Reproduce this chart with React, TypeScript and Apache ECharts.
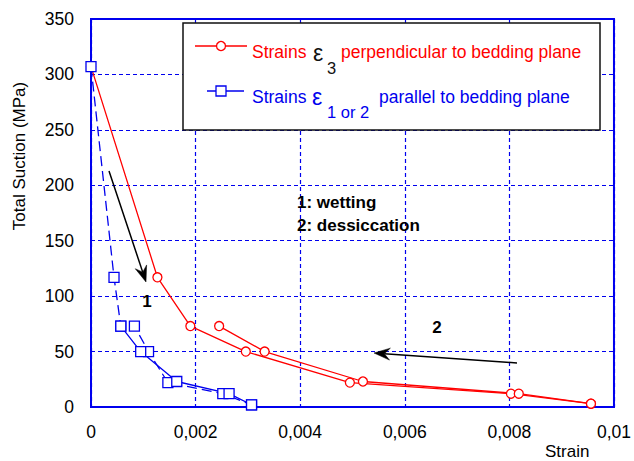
import React, { useEffect, useRef } from "react";
import * as echarts from "echarts";

// Strain (-) vs. total suction (MPa) measured on wetting and desiccation paths
const redWetStrain = [0, 0.00127, 0.0019, 0.00296, 0.00495, 0.00803, 0.00956];
const redWetSuction = [307, 117, 73, 50, 22, 12, 3];
const redDryStrain = [0.00956, 0.00818, 0.0052, 0.00332, 0.00245];
const redDrySuction = [3, 12, 23, 50, 73];

const blueWetStrain = [0, 0.00044, 0.00057, 0.00083, 0.0011, 0.00147, 0.00252, 0.00307];
const blueWetSuction = [307, 117, 73, 73, 50, 22, 12, 2];
const blueDryStrain = [0.00307, 0.00264, 0.00164, 0.00095, 0.00057];
const blueDrySuction = [2, 12, 23, 50, 73];

const strainMin = 0;
const strainMax = 0.01;
const strainStep = 0.002;
const suctionMin = 0;
const suctionMax = 350;
const suctionStep = 50;

const RED = "#ff0000";
const BLUE = "#0000ee";
const FONT = "'Liberation Sans', Arial, sans-serif";

const pairs = (xs: number[], ys: number[]) => xs.map((x, i) => [x, ys[i]]);

const fmtStrain = (v: number) =>
  v === 0 ? "0" : String(Number(v.toFixed(4))).replace(".", ",");

// filled barbed arrow head + shaft, in pixel space
function arrow(x1: number, y1: number, x2: number, y2: number) {
  const dx = x2 - x1;
  const dy = y2 - y1;
  const len = Math.hypot(dx, dy);
  const ux = dx / len;
  const uy = dy / len;
  const nx = -uy;
  const ny = ux;
  const L = 16;
  const W = 6;
  const bx = x2 - ux * L;
  const by = y2 - uy * L;
  const notchX = x2 - ux * L * 0.65;
  const notchY = y2 - uy * L * 0.65;
  return [
    {
      type: "line",
      z: 50,
      shape: { x1, y1, x2: notchX, y2: notchY },
      style: { stroke: "#000", lineWidth: 1.5 },
    },
    {
      type: "polygon",
      z: 50,
      shape: {
        points: [
          [x2, y2],
          [bx + nx * W, by + ny * W],
          [notchX, notchY],
          [bx - nx * W, by - ny * W],
        ],
      },
      style: { fill: "#000", stroke: "#000", lineWidth: 0.5 },
    },
  ];
}

function txt(
  text: string,
  x: number,
  y: number,
  color: string,
  size = 17,
  weight: string = "normal",
  align: string = "left"
) {
  return {
    type: "text",
    z: 60,
    x,
    y,
    style: {
      text,
      fill: color,
      font: `${weight} ${size}px ${FONT}`,
      align,
      verticalAlign: "middle",
    },
  };
}

export default function App() {
  const ref = useRef<HTMLDivElement>(null);

  useEffect(() => {
    if (!ref.current) return;
    const chart = echarts.init(ref.current, null, { renderer: "svg" });

    const legend = [
      {
        type: "rect",
        z: 40,
        shape: { x: 183, y: 23, width: 417, height: 107 },
        style: { fill: "#fff", stroke: "#111", lineWidth: 1.5 },
      },
      {
        type: "line",
        z: 45,
        shape: { x1: 195, y1: 46, x2: 247, y2: 46 },
        style: { stroke: RED, lineWidth: 1.3 },
      },
      {
        type: "circle",
        z: 46,
        shape: { cx: 221, cy: 46, r: 4.5 },
        style: { fill: "#fff", stroke: RED, lineWidth: 1.3 },
      },
      txt("Strains", 252, 52, RED, 17.5),
      txt("ε", 313, 53, "#111", 23),
      txt("3", 327, 68, "#111", 16.5),
      txt("perpendicular to bedding plane", 341, 52, RED, 17.5),
      {
        type: "line",
        z: 45,
        shape: { x1: 207, y1: 91, x2: 244, y2: 91 },
        style: { stroke: BLUE, lineWidth: 1.3 },
      },
      {
        type: "rect",
        z: 46,
        shape: { x: 216, y: 86, width: 10, height: 10 },
        style: { fill: "#fff", stroke: BLUE, lineWidth: 1.3 },
      },
      txt("Strains", 252, 97, BLUE, 17.5),
      txt("ε", 312, 97, BLUE, 23),
      txt("1 or 2", 327, 112, BLUE, 16.5),
      txt("parallel to bedding plane", 379, 97, BLUE, 17.5),
    ];

    const annotations = [
      txt("1: wetting", 297, 202, "#000", 17, "bold"),
      txt("2: dessiccation", 297, 225, "#000", 17, "bold"),
      txt("1", 147, 301, "#000", 17, "bold", "center"),
      txt("2", 437, 327, "#000", 17, "bold", "center"),
      ...arrow(109, 171, 146, 282),
      ...arrow(517, 363, 374, 353),
      txt("Strain", 545, 451, "#000", 17),
      {
        type: "text",
        z: 60,
        x: 19,
        y: 156,
        rotation: Math.PI / 2,
        style: {
          text: "Total Suction (MPa)",
          fill: "#000",
          font: `normal 17px ${FONT}`,
          align: "center",
          verticalAlign: "middle",
        },
      },
    ];

    const splitLine = {
      show: true,
      lineStyle: { color: BLUE, width: 1.2, type: [4, 3] },
    };
    const axisLine = { show: true, lineStyle: { color: BLUE, width: 2 } };

    chart.setOption({
      animation: false,
      backgroundColor: "#fff",
      grid: {
        left: 91,
        right: 17,
        top: 19,
        bottom: 54,
        show: true,
        borderColor: BLUE,
        borderWidth: 2,
      },
      xAxis: {
        type: "value",
        min: strainMin,
        max: strainMax,
        interval: strainStep,
        axisLine,
        axisTick: { show: false },
        splitLine,
        axisLabel: {
          color: "#000",
          fontSize: 17.5,
          fontFamily: FONT,
          margin: 16,
          formatter: fmtStrain,
        },
      },
      yAxis: {
        type: "value",
        min: suctionMin,
        max: suctionMax,
        interval: suctionStep,
        axisLine,
        axisTick: { show: false },
        splitLine,
        axisLabel: {
          color: "#000",
          fontSize: 17.5,
          fontFamily: FONT,
          margin: 17,
        },
      },
      series: [
        {
          type: "line",
          data: pairs(redWetStrain, redWetSuction),
          symbol: "circle",
          symbolSize: 9,
          itemStyle: { color: "#fff", borderColor: RED, borderWidth: 1.3 },
          lineStyle: { color: RED, width: 1.3 },
          z: 2,
        },
        {
          type: "line",
          data: pairs(redDryStrain, redDrySuction),
          symbol: "circle",
          symbolSize: 9,
          itemStyle: { color: "#fff", borderColor: RED, borderWidth: 1.3 },
          lineStyle: { color: RED, width: 1.3 },
          z: 2,
        },
        {
          type: "line",
          data: pairs(blueWetStrain, blueWetSuction),
          symbol: "rect",
          symbolSize: 10,
          itemStyle: { color: "#fff", borderColor: BLUE, borderWidth: 1.3 },
          lineStyle: { color: BLUE, width: 1.3, type: [10, 5] },
          z: 3,
        },
        {
          type: "line",
          data: pairs(blueDryStrain, blueDrySuction),
          symbol: "rect",
          symbolSize: 10,
          itemStyle: { color: "#fff", borderColor: BLUE, borderWidth: 1.3 },
          lineStyle: { color: BLUE, width: 1.3 },
          z: 3,
        },
      ],
      graphic: [...legend, ...annotations],
    });

    return () => chart.dispose();
  }, []);

  return (
    <div
      ref={ref}
      style={{ position: "fixed", left: 0, top: 0, width: 634, height: 461 }}
    />
  );
}
